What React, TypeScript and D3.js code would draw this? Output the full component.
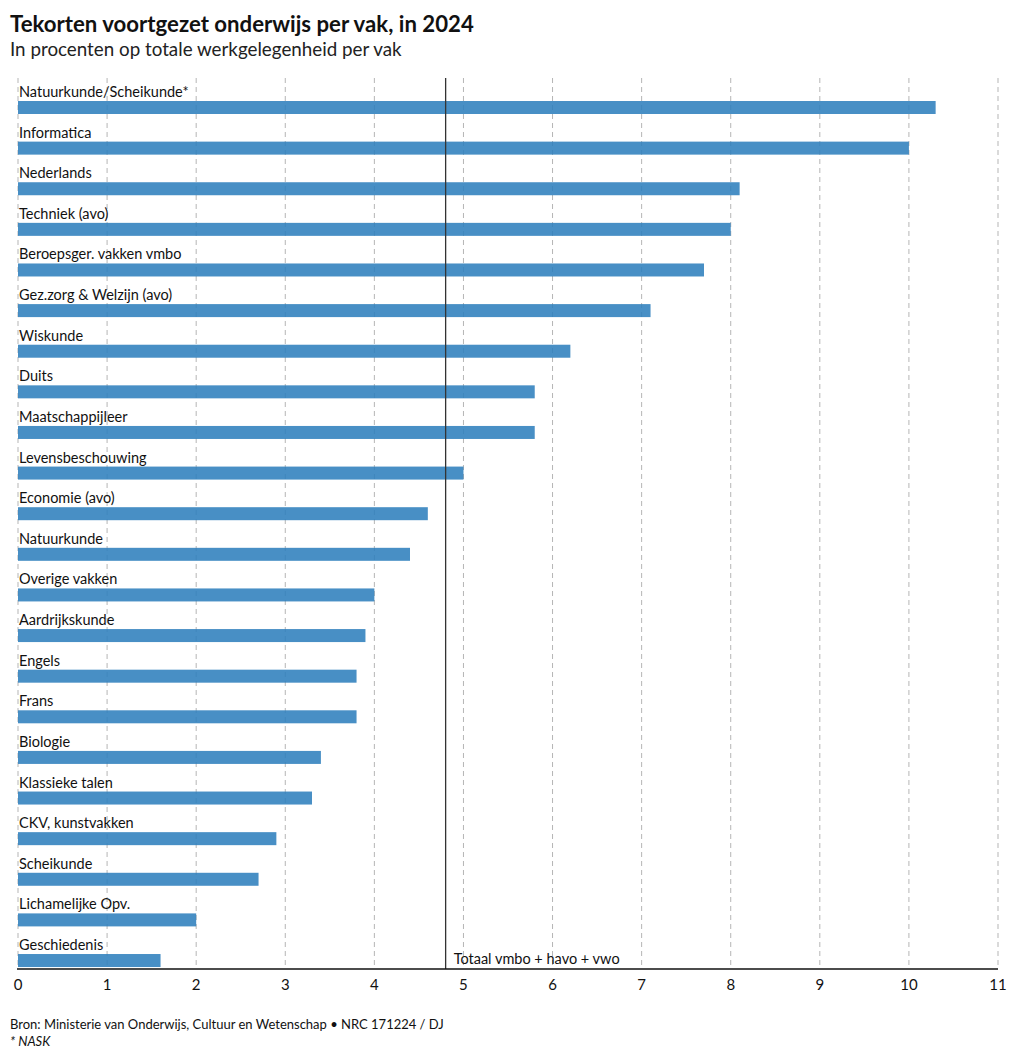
import React from "react";
import * as d3 from "d3";

const categories = [
  "Natuurkunde/Scheikunde*",
  "Informatica",
  "Nederlands",
  "Techniek (avo)",
  "Beroepsger. vakken vmbo",
  "Gez.zorg & Welzijn (avo)",
  "Wiskunde",
  "Duits",
  "Maatschappijleer",
  "Levensbeschouwing",
  "Economie (avo)",
  "Natuurkunde",
  "Overige vakken",
  "Aardrijkskunde",
  "Engels",
  "Frans",
  "Biologie",
  "Klassieke talen",
  "CKV, kunstvakken",
  "Scheikunde",
  "Lichamelijke Opv.",
  "Geschiedenis",
];
const values = [10.3, 10.0, 8.1, 8.0, 7.7, 7.1, 6.2, 5.8, 5.8, 5.0, 4.6, 4.4, 4.0, 3.9, 3.8, 3.8, 3.4, 3.3, 2.9, 2.7, 2.0, 1.6];
const ticks = [0, 1, 2, 3, 4, 5, 6, 7, 8, 9, 10, 11];
const referenceValue = 4.8;
const referenceLabel = "Totaal vmbo + havo + vwo";
const title = "Tekorten voortgezet onderwijs per vak, in 2024";
const subtitle = "In procenten op totale werkgelegenheid per vak";
const source = "Bron: Ministerie van Onderwijs, Cultuur en Wetenschap • NRC 171224 / DJ";
const note = "* NASK";

const FONT = "Lato, 'Noto Sans', sans-serif";

export default function App() {
  const W = 1020, H = 1061;
  const x = d3.scaleLinear().domain([0, 11]).range([18, 998]);
  const y = d3.scaleBand<string>().domain(categories).range([81, 81 + 40.62 * categories.length]).paddingInner(0);
  const plotTop = 78, axisY = 969;
  return (
    <svg width={W} height={H} style={{ position: "absolute", left: 0, top: 0, background: "#fff" }} fontFamily={FONT}>
      <text x={10} y={32} fontSize={22.2} fontWeight={700} fill="#111">{title}</text>
      <text x={10} y={56} fontSize={18.8} fill="#222">{subtitle}</text>
      {ticks.map((t) => (
        <line key={"g" + t} x1={x(t)} x2={x(t)} y1={plotTop} y2={axisY} stroke="#b5b5b5" strokeWidth={1} strokeDasharray="5,4" />
      ))}
      {categories.map((c, i) => {
        const top = (y(c) as number);
        return (
          <g key={c}>
            <text x={19} y={top + 16} fontSize={14.5} fill="#111">{c}</text>
            <rect x={x(0)} y={top + 20} width={x(values[i]) - x(0)} height={13} fill="#2f80bd" fillOpacity={0.88} />
          </g>
        );
      })}
      <line x1={x(referenceValue)} x2={x(referenceValue)} y1={plotTop} y2={axisY} stroke="#333" strokeWidth={1.3} />
      <text x={x(referenceValue) + 8} y={axisY - 5} fontSize={14.5} fill="#111">{referenceLabel}</text>
      <line x1={x(0) - 1} x2={x(11)} y1={axisY} y2={axisY} stroke="#111" strokeWidth={1.3} />
      {ticks.map((t) => (
        <text key={"t" + t} x={x(t)} y={990} fontSize={15} textAnchor="middle" fill="#111">{t}</text>
      ))}
      <text x={10} y={1029} fontSize={13} fill="#111">{source}</text>
      <text x={10} y={1046} fontSize={13} fontStyle="italic" fill="#111">{note}</text>
    </svg>
  );
}
